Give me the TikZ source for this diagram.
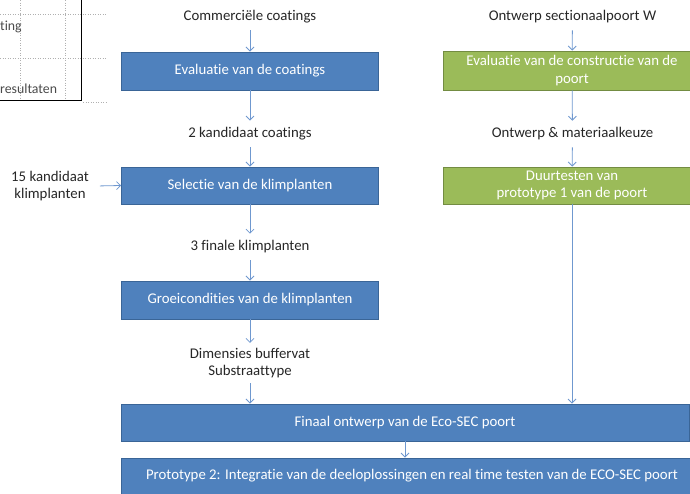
\documentclass[tikz,border=0pt]{standalone}
\usepackage{fontspec}
\setmainfont[Ligatures=NoCommon]{Carlito}
\usetikzlibrary{arrows.meta}
\definecolor{boxblue}{HTML}{4F81BD}
\definecolor{boxblueline}{HTML}{3A6597}
\definecolor{boxgreen}{HTML}{9BBB59}
\definecolor{boxgreenline}{HTML}{738C42}
\definecolor{flowline}{HTML}{6F98CF}
\definecolor{labeltext}{HTML}{262626}
\definecolor{gridgray}{HTML}{B0B0B0}
\definecolor{tabletext}{HTML}{4A4A4A}
\begin{document}
\begin{tikzpicture}[x=1pt,y=-1pt,
  every node/.style={font=\fontsize{14.8}{17.5}\selectfont},
  bluebox/.style={draw=boxblueline,line width=0.9pt,fill=boxblue,text=white,
    align=center,minimum height=38pt,inner sep=2pt},
  greenbox/.style={draw=boxgreenline,line width=0.9pt,fill=boxgreen,text=white,
    align=center,minimum width=258pt,inner sep=2pt},
  flowlabel/.style={text=labeltext,align=center,inner sep=0pt,outer sep=7pt},
  arr/.style={draw=flowline,line width=0.8pt,-{Straight Barb[length=4pt,width=8pt]}},
  grid/.style={draw=gridgray,line width=0.5pt,dotted},
  tablefont/.style={font=\fontsize{13.8}{16}\selectfont,text=tabletext,inner sep=0pt}]
\useasboundingbox (0,0) rectangle (690,493);
\clip (0,0) rectangle (690,493);

% table fragment in the corner
\draw[grid] (0,14) -- (107,14);
\draw[grid] (0,58) -- (107,58);
\draw[grid] (83,102) -- (107,102);
\draw[grid] (20,0) -- (20,100);
\draw[grid] (65,0) -- (65,100);
\draw[black,line width=1pt] (-10,-10) rectangle (81,100);
\node[tablefont,anchor=west] (tcell) at (0,27) {ting};
\node[tablefont,anchor=west] (rcell) at (0,89) {resultaten};

% left column
\node[flowlabel] (c1) at (250,17) {Commerciële coatings};
\node[bluebox,minimum width=257pt] (b1) at (250,71) {Evaluatie van de coatings};
\node[flowlabel] (c2) at (250,134) {2 kandidaat coatings};
\node[bluebox,minimum width=257pt,minimum height=37pt] (b2) at (250,185.5) {Selectie van de klimplanten};
\node[flowlabel] (side) at (50,186) {15 kandidaat\\klimplanten};
\node[flowlabel] (c3) at (250,247) {3 finale klimplanten};
\node[bluebox,minimum width=257pt] (b3) at (250,300) {Groeicondities van de klimplanten};
\node[flowlabel,outer sep=5pt] (c4) at (250,363) {Dimensies buffervat\\Substraattype};

% right column
\node[flowlabel] (d1) at (572.5,17) {Ontwerp sectionaalpoort W};
\node[greenbox,minimum height=39pt] (g1) at (572,70.5) {Evaluatie van de constructie van de\\poort};
\node[flowlabel] (d2) at (572.5,134) {Ontwerp \& materiaalkeuze};
\node[greenbox,minimum height=37pt] (g2) at (572,185.5) {Duurtesten van\\prototype 1 van de poort};

% bottom row
\node[bluebox,minimum width=568pt,minimum height=37pt] (f1) at (405,422.5) {Finaal ontwerp van de Eco-SEC poort};
\node[bluebox,minimum width=582pt,minimum height=36pt] (f2) at (412,476) {Prototype 2: Integratie van de deeloplossingen en real time testen van de ECO-SEC poort};

% connectors
\draw[arr] (c1) -- (b1);
\draw[arr] (b1) -- (c2);
\draw[arr] (c2) -- (b2);
\draw[arr,shorten <=4pt] (side.east) -- (b2.west);
\draw[arr] (b2) -- (c3);
\draw[arr] (c3) -- (b3);
\draw[arr] (b3) -- (c4);
\draw[arr] (c4.south) -- (c4.south |- f1.north);
\draw[arr] (d1) -- (g1);
\draw[arr] (g1) -- (d2);
\draw[arr] (d2) -- (g2);
\draw[arr] (g2.south) -- (g2.south |- f1.north);
\draw[arr] (f1.south) -- (f1.south |- f2.north);
\end{tikzpicture}
\end{document}
